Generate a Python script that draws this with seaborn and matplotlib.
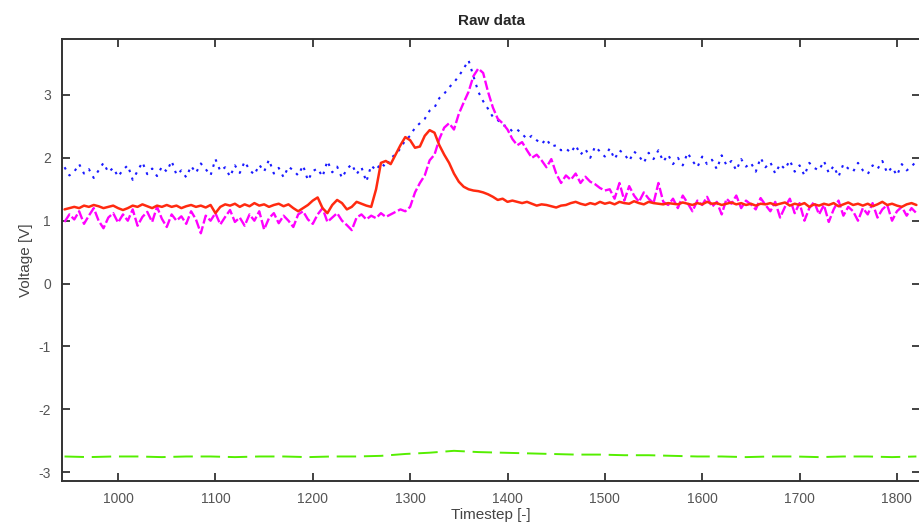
import numpy as np
import pandas as pd
import matplotlib
matplotlib.use("Agg")
import matplotlib.pyplot as plt
import seaborn as sns

# ---- data ----
T_START, T_STEP = 945, 5
blue = [
    1.85,1.72,1.78,1.90,1.75,1.82,1.68,1.80,1.92,1.77,1.84,1.70,
    1.81,1.88,1.65,1.79,1.93,1.74,1.83,1.71,1.86,1.78,1.95,1.73,
    1.80,1.69,1.87,1.76,1.91,1.82,1.72,1.98,1.79,1.85,1.70,1.88,
    1.76,1.94,1.81,1.73,1.89,1.78,1.97,1.75,1.84,1.69,1.86,1.80,
    1.72,1.88,1.64,1.79,1.83,1.70,1.95,1.77,1.86,1.68,1.82,1.90,
    1.74,1.85,1.62,1.88,1.80,
    1.92,1.85,2.00,2.05,2.15,2.28,2.35,2.48,2.55,2.62,2.75,2.80,2.95,3.02,3.12,3.20,3.30,3.42,3.55,
    3.30,3.05,2.90,2.78,2.65,2.60,2.52,2.50,2.42,2.45,2.38,2.30,2.35,2.28,2.22,2.30,2.18,2.20,2.12,2.15,
    2.08,2.20,2.05,2.14,2.00,2.18,2.10,2.02,2.15,1.98,2.12,2.06,1.95,2.10,2.03,1.92,2.08,1.98,2.12,1.94,
    2.05,1.90,2.00,1.88,2.08,1.95,1.85,2.02,1.90,1.97,1.82,2.04,1.88,1.95,1.80,1.98,1.86,1.92,1.78,2.00,
    1.85,1.93,1.75,1.90,1.82,1.96,1.78,1.88,1.72,1.92,1.84,1.80,1.95,1.76,1.87,1.70,1.90,1.83,1.78,1.92,
    1.80,1.74,1.88,1.82,1.95,1.76,1.85,1.72,1.90,1.80,1.86,1.95,
]
red = [
    1.18,1.20,1.22,1.20,1.24,1.22,1.25,1.23,1.20,1.22,1.24,1.20,
    1.17,1.20,1.24,1.22,1.26,1.23,1.20,1.24,1.22,1.25,1.22,1.24,
    1.20,1.23,1.25,1.22,1.24,1.21,1.25,1.12,1.22,1.26,1.24,1.27,
    1.22,1.26,1.23,1.28,1.24,1.26,1.22,1.25,1.27,1.23,1.26,1.20,
    1.15,1.20,1.25,1.32,1.37,1.20,1.12,1.25,1.33,1.28,1.18,1.22,
    1.30,1.27,1.24,1.22,1.50,
    1.92,1.95,1.90,2.05,2.20,2.33,2.28,2.16,2.18,2.35,2.44,2.40,2.20,2.05,1.92,1.75,1.62,1.54,1.50,
    1.48,1.47,1.45,1.42,1.38,1.33,1.35,1.30,1.32,1.30,1.28,1.30,1.27,1.24,1.26,1.25,1.23,1.21,1.24,1.25,
    1.28,1.30,1.27,1.25,1.28,1.26,1.30,1.27,1.29,1.26,1.30,1.28,1.27,1.31,1.28,1.26,1.30,1.28,1.27,1.26,
    1.28,1.27,1.26,1.29,1.27,1.25,1.28,1.26,1.30,1.27,1.28,1.25,1.27,1.29,1.26,1.28,1.25,1.27,1.24,1.27,
    1.26,1.28,1.25,1.27,1.29,1.24,1.27,1.25,1.28,1.22,1.26,1.24,1.27,1.25,1.28,1.23,1.26,1.29,1.25,1.27,
    1.24,1.27,1.23,1.26,1.30,1.25,1.27,1.24,1.22,1.26,1.28,1.25,
]
magenta = [
    0.98,1.10,1.02,1.15,0.95,1.08,1.20,1.00,0.88,1.05,1.12,0.97,
    1.10,1.00,1.18,0.92,1.06,1.14,0.98,1.22,1.03,0.90,1.10,1.00,
    1.07,0.95,1.15,1.02,0.80,1.08,1.00,1.12,0.94,1.06,1.17,0.98,
    1.05,0.92,1.10,1.00,1.15,0.86,1.04,1.12,0.96,1.08,1.00,0.90,
    1.10,1.15,1.02,0.95,1.10,1.20,0.98,1.05,1.12,1.00,0.93,0.85,
    1.05,1.10,1.02,1.08,1.04,
    1.12,1.06,1.10,1.14,1.18,1.15,1.22,1.45,1.60,1.72,1.96,2.05,2.30,2.48,2.55,2.45,2.70,2.88,3.05,
    3.30,3.42,3.35,3.05,2.80,2.62,2.55,2.45,2.30,2.20,2.25,2.12,2.00,2.05,1.96,1.85,1.98,1.75,1.60,1.72,
    1.65,1.75,1.60,1.70,1.62,1.58,1.52,1.48,1.50,1.35,1.60,1.32,1.55,1.40,1.30,1.45,1.35,1.28,1.60,1.30,
    1.25,1.35,1.20,1.40,1.28,1.15,1.32,1.25,1.38,1.22,1.30,1.10,1.35,1.27,1.40,1.20,1.32,1.26,1.18,1.36,
    1.25,1.15,1.30,1.05,1.22,1.35,1.12,1.28,1.00,1.20,1.30,1.10,1.25,0.98,1.18,1.32,1.08,1.22,1.15,1.00,
    1.20,1.10,1.28,1.05,1.18,1.25,1.00,1.15,1.22,1.08,1.20,1.12,
]
GREEN_START, GREEN_STEP = 945, 25
green = [
    -2.75,-2.76,-2.75,-2.75,-2.76,-2.75,-2.75,-2.76,-2.75,-2.75,-2.76,-2.75,-2.75,-2.74,
    -2.71,-2.69,-2.66,-2.68,-2.69,-2.70,-2.71,-2.72,-2.72,-2.73,-2.73,-2.74,-2.75,-2.75,
    -2.76,-2.75,-2.75,-2.76,-2.75,-2.75,-2.76,-2.75,
]
x_ticks = [1000, 1100, 1200, 1300, 1400, 1500, 1600, 1700, 1800]
y_ticks = [-3, -2, -1, 0, 1, 2, 3]

t = T_START + T_STEP * np.arange(len(blue))
tg = GREEN_START + GREEN_STEP * np.arange(len(green))
df = pd.DataFrame({"t": t, "blue": blue, "red": red, "magenta": magenta})
dg = pd.DataFrame({"t": tg, "green": green})

sns.set_theme(style="white")
plt.rcParams["font.family"] = ["Liberation Sans", "DejaVu Sans"]

fig = plt.figure(figsize=(9.19, 5.27), dpi=100)
ax = fig.add_axes([62/919, 46/527, 858/919, 442/527])

sns.lineplot(data=df, x="t", y="blue", ax=ax, color="#1a1aff", linewidth=1.5)
ax.lines[-1].set_dashes([1.2, 2.8])
sns.lineplot(data=df, x="t", y="magenta", ax=ax, color="#ff00ff", linewidth=1.7)
ax.lines[-1].set_dashes([4, 1.2])
sns.lineplot(data=df, x="t", y="red", ax=ax, color="#ff2a10", linestyle="-", linewidth=1.8)
sns.lineplot(data=dg, x="t", y="green", ax=ax, color="#55ee00", linewidth=1.4)
ax.lines[-1].set_dashes([10, 4])

ax.set_xlim(942.4, 1823.7)
ax.set_ylim(-3.14, 3.89)
ax.set_xticks(x_ticks)
ax.set_yticks(y_ticks)
ax.set_xticklabels([str(v) for v in x_ticks])
ax.set_yticklabels([str(v) for v in y_ticks])
ax.tick_params(direction="in", length=6, width=1.2, color="#222222",
               top=True, right=True, bottom=True, left=True,
               labelsize=10, labelcolor="#555555", pad=8)
for s in ax.spines.values():
    s.set_color("#333333")
    s.set_linewidth(1.4)

ax.set_title("Raw data", fontsize=11, fontweight="bold", pad=10)
ax.set_xlabel("Timestep [-]", fontsize=11, color="#444444", labelpad=1)
ax.set_ylabel("Voltage [V]", fontsize=11, color="#444444", labelpad=4)

fig.savefig("out.png", dpi=100)
